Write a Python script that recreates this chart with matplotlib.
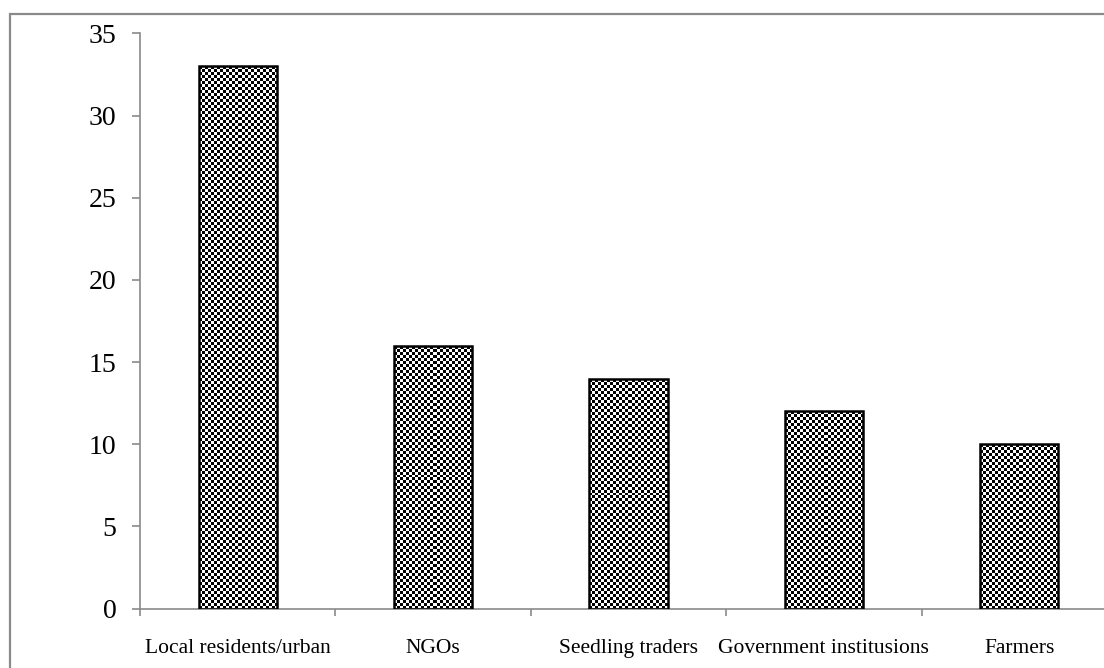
import numpy as np
import matplotlib
matplotlib.use("Agg")
import matplotlib.pyplot as plt
from matplotlib.patches import Rectangle

categories = ["Local residents/urban", "NGOs", "Seedling traders",
              "Government institusions", "Farmers"]
values = [33, 16, 14, 12, 10]
yticks = [0, 5, 10, 15, 20, 25, 30, 35]

plt.rcParams["font.family"] = ["Liberation Serif", "DejaVu Serif"]

fig = plt.figure(figsize=(11.04, 6.68), dpi=100)
# outer chart border (cropped on right and bottom like the source)
fig.patches.append(Rectangle((10 / 1104, -0.05), 1.2, 1 - 13.5 / 668 + 0.05,
                             transform=fig.transFigure, fill=False,
                             edgecolor="#8a8a8a", linewidth=1.6))

ax = fig.add_axes([140 / 1104, 59.5 / 668, 977 / 1104, 575 / 668])
x = np.arange(len(categories))
bars = ax.bar(x, values, width=0.4, facecolor="none", edgecolor="black",
              linewidth=1.8, zorder=3)
ax.set_xlim(-0.5, 4.5)
ax.set_ylim(0, 35)

for s in ["top", "right"]:
    ax.spines[s].set_visible(False)
for s in ["left", "bottom"]:
    ax.spines[s].set_color("#8a8a8a")
    ax.spines[s].set_linewidth(1.2)

ax.set_yticks(yticks)
ax.set_yticklabels([str(v) for v in yticks], fontsize=20)
ax.tick_params(axis="y", length=6, width=1.2, color="#8a8a8a", pad=11)
ax.set_xticks(np.arange(len(categories) + 1) - 0.5, minor=True)
ax.set_xticks(x)
ax.set_xticklabels(categories, fontsize=15.5)
ax.tick_params(axis="x", which="major", length=0, pad=22)
ax.tick_params(axis="x", which="minor", length=5, width=1.2, color="#8a8a8a")

# checkerboard fill clipped to each bar
fig.canvas.draw()
for b in bars:
    bb = b.get_window_extent()
    nx = max(1, int(round(bb.width / 3.0)))
    ny = max(1, int(round(bb.height / 3.0)))
    board = (np.indices((ny, nx)).sum(axis=0) % 2).astype(float)
    im = ax.imshow(board, cmap="gray", vmin=0, vmax=1, interpolation="nearest",
                   extent=(b.get_x(), b.get_x() + b.get_width(), 0, b.get_height()),
                   aspect="auto", zorder=2)
    im.set_clip_path(b)
ax.set_xlim(-0.5, 4.5)
ax.set_ylim(0, 35)

fig.savefig("out.png", dpi=100)
